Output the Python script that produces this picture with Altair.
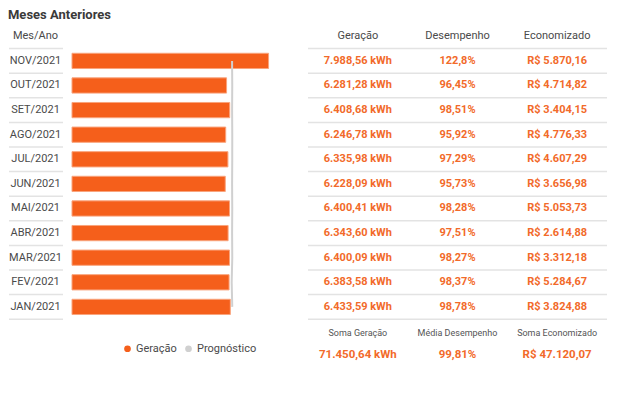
import altair as alt
import pandas as pd

# ---------------- data ----------------
title_text = "Meses Anteriores"
label_header = "Mes/Ano"
months = ["NOV/2021", "OUT/2021", "SET/2021", "AGO/2021", "JUL/2021", "JUN/2021",
          "MAI/2021", "ABR/2021", "MAR/2021", "FEV/2021", "JAN/2021"]
geracao = [7988.56, 6281.28, 6408.68, 6246.78, 6335.98, 6228.09,
           6400.41, 6343.60, 6400.09, 6383.58, 6433.59]
prognostico = [6505, 6512, 6506, 6513, 6512, 6506, 6512, 6506, 6513, 6489, 6513]
geracao_txt = ["7.988,56 kWh", "6.281,28 kWh", "6.408,68 kWh", "6.246,78 kWh",
               "6.335,98 kWh", "6.228,09 kWh", "6.400,41 kWh", "6.343,60 kWh",
               "6.400,09 kWh", "6.383,58 kWh", "6.433,59 kWh"]
desempenho_txt = ["122,8%", "96,45%", "98,51%", "95,92%", "97,29%", "95,73%",
                  "98,28%", "97,51%", "98,27%", "98,37%", "98,78%"]
economizado_txt = ["R$ 5.870,16", "R$ 4.714,82", "R$ 3.404,15", "R$ 4.776,33",
                   "R$ 4.607,29", "R$ 3.656,98", "R$ 5.053,73", "R$ 2.614,88",
                   "R$ 3.312,18", "R$ 5.284,67", "R$ 3.824,88"]
columns = ["Geração", "Desempenho", "Economizado"]
footer_labels = ["Soma Geração", "Média Desempenho", "Soma Economizado"]
footer_values = ["71.450,64 kWh", "99,81%", "R$ 47.120,07"]
series = ["Geração", "Prognóstico"]

# ---------------- style ----------------
FONT = "Roboto"
ORANGE = "#F55F1B"
BAR_STROKE = "#F9A47C"
TEXT_ORANGE = "#F26A2A"
GREY_LINE = "#D0D0D0"
SEP = "#E3E3E3"
DARK = "#4A4A4A"

n = len(months)
rows = pd.DataFrame({
    "month": months, "row": list(range(n)), "geracao": geracao,
    "prog": prognostico, "serie": [series[0]] * n,
})
sep_df = pd.DataFrame({"y": [r - 0.5 for r in range(n + 1)]})

cells = []
for i in range(n):
    for c, t in zip(columns, (geracao_txt[i], desempenho_txt[i], economizado_txt[i])):
        cells.append({"row": i, "col": c, "text": t})
cells_df = pd.DataFrame(cells)
head_df = pd.DataFrame({"row": [-1] * 3, "col": columns, "text": columns})
foot_lab_df = pd.DataFrame({"row": [11.05] * 3, "col": columns, "text": footer_labels})
foot_val_df = pd.DataFrame({"row": [11.95] * 3, "col": columns, "text": footer_values})

Y_DOMAIN = [-1.5, 12.7]
STEP = 24.6
H = (Y_DOMAIN[1] - Y_DOMAIN[0]) * STEP
yscale = alt.Scale(domain=Y_DOMAIN, reverse=True, nice=False, zero=False)


def Y(field):
    return alt.Y(field, type="quantitative", scale=yscale, axis=None)


# ---------------- panel 1: month labels ----------------
W1 = 55
p1_labels = alt.Chart(rows).mark_text(font=FONT, fontSize=11, color=DARK).encode(
    x=alt.value(W1 / 2), y=Y("row"), text="month:N")
p1_head = alt.Chart(pd.DataFrame({"row": [-1], "t": [label_header]})).mark_text(
    font=FONT, fontSize=11, color=DARK).encode(x=alt.value(W1 / 2), y=Y("row"), text="t:N")
p1_sep = alt.Chart(sep_df).mark_rule(color=SEP, strokeWidth=1.5).encode(
    x=alt.value(1), x2=alt.value(W1), y=Y("y"))
panel1 = alt.layer(p1_sep, p1_labels, p1_head).properties(width=W1, height=H)

# ---------------- panel 2: bars ----------------
W2 = 227
xscale = alt.Scale(domain=[0, 9225], nice=False, zero=True)
bars = alt.Chart(rows).transform_calculate(
    y0="datum.row - 0.31", y1="datum.row + 0.31"
).mark_rect(stroke=BAR_STROKE, strokeWidth=1).encode(
    x=alt.X("geracao:Q", scale=xscale, axis=None),
    x2=alt.datum(0),
    y=Y("y0"), y2="y1:Q",
    color=alt.Color("serie:N",
                    scale=alt.Scale(domain=series, range=[ORANGE, GREY_LINE]),
                    legend=alt.Legend(title=None, orient="none", legendX=114, legendY=319,
                                      direction="horizontal", symbolType="circle",
                                      symbolSize=45, symbolStrokeWidth=0,
                                      labelFont=FONT, labelFontSize=11, labelColor=DARK,
                                      labelOffset=3, columnPadding=6)),
)
prog_line = alt.Chart(rows).mark_line(color=GREY_LINE, strokeWidth=2).encode(
    x=alt.X("prog:Q", scale=xscale, axis=None), y=Y("row"), order="row:Q")
panel2 = alt.layer(bars, prog_line).properties(width=W2, height=H)

# ---------------- panel 3: table ----------------
W3 = 299
xcol = alt.X("col:N", scale=alt.Scale(type="band", domain=columns,
                                      paddingInner=0, paddingOuter=0), axis=None)
t_sep = alt.Chart(sep_df).mark_rule(color=SEP, strokeWidth=1.5).encode(
    x=alt.value(0), x2=alt.value(W3), y=Y("y"))
t_head = alt.Chart(head_df).mark_text(font=FONT, fontSize=11, color=DARK).encode(
    x=xcol, y=Y("row"), text="text:N")
t_cells = alt.Chart(cells_df).mark_text(font=FONT, fontSize=11, fontWeight="bold",
                                         color=TEXT_ORANGE).encode(
    x=xcol, y=Y("row"), text="text:N")
t_flab = alt.Chart(foot_lab_df).mark_text(font=FONT, fontSize=9, color="#555555").encode(
    x=xcol, y=Y("row"), text="text:N")
t_fval = alt.Chart(foot_val_df).mark_text(font=FONT, fontSize=11.5, fontWeight="bold",
                                           color=TEXT_ORANGE).encode(
    x=xcol, y=Y("row"), text="text:N")
panel3 = alt.layer(t_sep, t_head, t_cells, t_flab, t_fval).properties(width=W3, height=H)

chart = alt.hconcat(panel1, panel2, panel3, spacing=9, bounds="flush").properties(
    title=alt.TitleParams(title_text, anchor="start", fontSize=13, fontWeight="bold",
                          color="#3A3A3A", font=FONT, offset=1.5),
    padding={"left": 0, "top": 1, "right": 0, "bottom": 0},
).configure(font=FONT).configure_view(strokeWidth=0, stroke=None)

chart.save("out.html", embed_options={"renderer": "svg", "actions": False})
